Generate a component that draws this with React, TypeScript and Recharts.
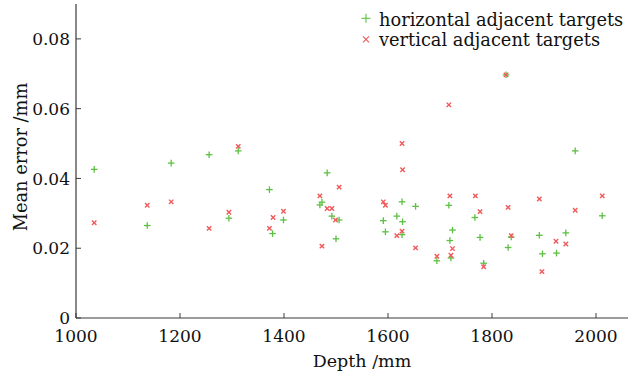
import React from 'react';
import { ScatterChart, Scatter, XAxis, YAxis, Legend } from 'recharts';

const horizontalDepth = [1035, 1137, 1183, 1256, 1294, 1312, 1372, 1378, 1399, 1469, 1473, 1483, 1492, 1500, 1506, 1591, 1595, 1617, 1627, 1627, 1628, 1653, 1694, 1717, 1719, 1721, 1724, 1767, 1777, 1784, 1827, 1831, 1837, 1891, 1897, 1924, 1942, 1960, 2012];
const horizontalError = [0.0426, 0.0265, 0.0444, 0.0468, 0.0286, 0.0479, 0.0368, 0.0242, 0.0281, 0.0324, 0.0332, 0.0416, 0.0292, 0.0227, 0.0281, 0.0279, 0.0247, 0.0292, 0.0333, 0.0239, 0.0276, 0.0320, 0.0164, 0.0323, 0.0222, 0.0172, 0.0252, 0.0288, 0.0231, 0.0157, 0.0697, 0.0202, 0.0232, 0.0237, 0.0184, 0.0186, 0.0244, 0.0479, 0.0293];

const verticalDepth = [1035, 1137, 1183, 1256, 1294, 1312, 1372, 1379, 1399, 1469, 1473, 1483, 1492, 1499, 1506, 1591, 1595, 1617, 1627, 1627, 1628, 1653, 1694, 1717, 1719, 1721, 1724, 1768, 1777, 1784, 1827, 1831, 1837, 1891, 1896, 1923, 1942, 1960, 2012];
const verticalError = [0.0273, 0.0323, 0.0333, 0.0257, 0.0303, 0.0492, 0.0257, 0.0288, 0.0306, 0.0350, 0.0206, 0.0314, 0.0314, 0.0281, 0.0375, 0.0333, 0.0323, 0.0236, 0.0500, 0.0249, 0.0425, 0.0201, 0.0177, 0.0611, 0.0350, 0.0180, 0.0199, 0.0350, 0.0305, 0.0147, 0.0697, 0.0317, 0.0236, 0.0341, 0.0133, 0.0220, 0.0212, 0.0309, 0.0350];

const xTicks = [1000, 1200, 1400, 1600, 1800, 2000];
const yTicks = [0, 0.02, 0.04, 0.06, 0.08];
const seriesNames = ['horizontal adjacent targets', 'vertical adjacent targets'];

const horizontalData = horizontalDepth.map((x, i) => ({ x, y: horizontalError[i] }));
const verticalData = verticalDepth.map((x, i) => ({ x, y: verticalError[i] }));

const FONT = '"DejaVu Serif", serif';
const GREEN = '#5cc043';
const RED = '#f05a5a';
const AXIS = '#3a3a3a';

const PlusShape = (props: any) => {
  const { cx, cy } = props;
  if (cx == null || cy == null) return null;
  const r = 3.3;
  return (
    <g stroke={GREEN} strokeWidth={1.3}>
      <line x1={cx - r} y1={cy} x2={cx + r} y2={cy} />
      <line x1={cx} y1={cy - r} x2={cx} y2={cy + r} />
    </g>
  );
};

const CrossShape = (props: any) => {
  const { cx, cy } = props;
  if (cx == null || cy == null) return null;
  const r = 2.2;
  return (
    <g stroke={RED} strokeWidth={1.4}>
      <line x1={cx - r} y1={cy - r} x2={cx + r} y2={cy + r} />
      <line x1={cx - r} y1={cy + r} x2={cx + r} y2={cy - r} />
    </g>
  );
};

const X_MARGIN = 4;
const Y_MARGIN = 6;

const XTick = (props: any) => {
  const { x, y, payload } = props;
  const axisY = y - X_MARGIN;
  return (
    <g>
      <line x1={x} y1={axisY} x2={x} y2={axisY - 5} stroke={AXIS} strokeWidth={1} />
      <text x={x} y={y + 20} textAnchor="middle" fontFamily={FONT} fontSize={17} fill="#111">
        {payload.value}
      </text>
    </g>
  );
};

const YTick = (props: any) => {
  const { x, y, payload } = props;
  const axisX = x + Y_MARGIN;
  const v = payload.value;
  const label = v === 0 ? '0' : v.toFixed(2);
  return (
    <g>
      <line x1={axisX} y1={y} x2={axisX + 5} y2={y} stroke={AXIS} strokeWidth={1} />
      <text x={x} y={y} dy="0.36em" textAnchor="end" fontFamily={FONT} fontSize={17} fill="#111">
        {label}
      </text>
    </g>
  );
};

const LegendContent = () => (
  <svg width={272} height={52} style={{ display: 'block' }}>
    <g stroke={GREEN} strokeWidth={1.1}>
      <line x1={5.5} y1={18.3} x2={14.5} y2={18.3} />
      <line x1={10} y1={13.8} x2={10} y2={22.8} />
    </g>
    <text x={23} y={25.7} fontFamily={FONT} fontSize={17.8} fill="#111">{seriesNames[0]}</text>
    <g stroke={RED} strokeWidth={1.1}>
      <line x1={7} y1={36.3} x2={13} y2={42.3} />
      <line x1={7} y1={42.3} x2={13} y2={36.3} />
    </g>
    <text x={23} y={45.5} fontFamily={FONT} fontSize={17.8} fill="#111">{seriesNames[1]}</text>
  </svg>
);

export default function App() {
  return (
    <div style={{ position: 'absolute', left: 0, top: 0, width: 628, height: 375, overflow: 'hidden', background: '#fff' }}>
      <ScatterChart width={660} height={375} margin={{ top: 4, right: 12, bottom: 17, left: 0 }}>
        <XAxis
          type="number"
          dataKey="x"
          domain={[1000, 2100]}
          ticks={xTicks}
          allowDataOverflow
          height={40}
          tickSize={0}
          tickMargin={X_MARGIN}
          tickLine={false}
          axisLine={{ stroke: AXIS, strokeWidth: 1.2 }}
          tick={<XTick />}
          interval={0}
          label={{
            content: (p: any) => {
              const vb = p.viewBox;
              return (
                <text x={vb.x + vb.width / 2} y={367} textAnchor="middle" fontFamily={FONT} fontSize={17.5} fill="#111">
                  Depth /mm
                </text>
              );
            },
          }}
        />
        <YAxis
          type="number"
          dataKey="y"
          domain={[0, 0.09]}
          ticks={yTicks}
          allowDataOverflow
          width={76}
          tickSize={0}
          tickMargin={Y_MARGIN}
          tickLine={false}
          axisLine={{ stroke: AXIS, strokeWidth: 1.2 }}
          tick={<YTick />}
          interval={0}
          label={{
            content: (p: any) => {
              const vb = p.viewBox;
              const cx = 20;
              const cy = vb.y + vb.height / 2 - 4;
              return (
                <text
                  x={cx}
                  y={cy}
                  transform={`rotate(-90 ${cx} ${cy})`}
                  textAnchor="middle"
                  dominantBaseline="central"
                  fontFamily={FONT}
                  fontSize={17.8}
                  fill="#111"
                >
                  Mean error /mm
                </text>
              );
            },
          }}
        />
        <Legend
          layout="vertical"
          align="center"
          verticalAlign="middle"
          content={<LegendContent />}
          wrapperStyle={{ position: 'absolute', left: 356, top: 0, width: 272, height: 52 }}
        />
        <Scatter name={seriesNames[0]} data={horizontalData} shape={<PlusShape />} isAnimationActive={false} />
        <Scatter name={seriesNames[1]} data={verticalData} shape={<CrossShape />} isAnimationActive={false} />
      </ScatterChart>
    </div>
  );
}
